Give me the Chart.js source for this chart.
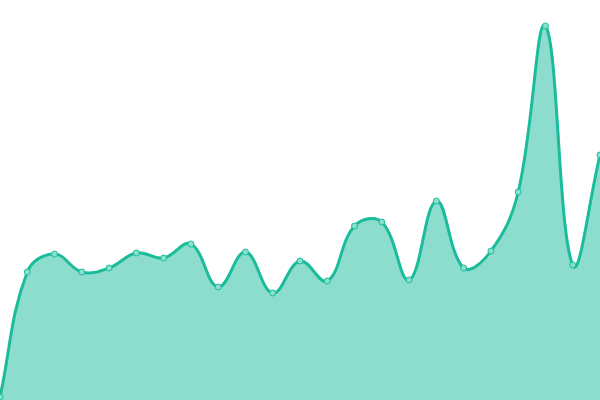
<!DOCTYPE html>
<html lang="en">
<head>
  <meta charset="UTF-8">
  <title>Area Chart</title>
  <style>
    html, body { margin: 0; padding: 0; background: #fff; }
    #chart-container { width: 600px; height: 400px; }
  </style>
</head>
<body>
  <div id="chart-container">
    <canvas id="areaChart"></canvas>
  </div>

  <script src="https://cdn.jsdelivr.net/npm/chart.js@4.4.0/dist/chart.umd.min.js"></script>
  <script>
    // one label per point, no axis text is shown
    const labels = ['1', '2', '3', '4', '5', '6', '7', '8', '9', '10', '11', '12',
      '13', '14', '15', '16', '17', '18', '19', '20', '21', '22', '23'];
    const values = [3, 128, 146, 128, 132, 147, 142, 156, 113, 148, 107, 139,
      119, 174, 178, 120, 199, 132, 149, 208, 374, 135, 245];

    const ctx = document.getElementById('areaChart').getContext('2d');
    new Chart(ctx, {
      type: 'line',
      data: {
        labels: labels,
        datasets: [{
          data: values,
          fill: true,
          tension: 0.4,
          borderColor: 'rgba(26, 188, 156, 1)',
          backgroundColor: 'rgba(26, 188, 156, 0.5)',
          borderWidth: 3,
          pointRadius: 3,
          pointBorderWidth: 1,
          pointBackgroundColor: 'rgba(140, 222, 206, 1)',
          pointBorderColor: 'rgba(26, 188, 156, 1)'
        }]
      },
      options: {
        responsive: true,
        maintainAspectRatio: false,
        animation: false,
        layout: { padding: 0, autoPadding: false },
        plugins: {
          legend: { display: false },
          tooltip: { enabled: false }
        },
        scales: {
          x: { display: false, offset: false },
          y: { display: false, min: 0, max: 400 }
        }
      }
    });
  </script>
</body>
</html>
